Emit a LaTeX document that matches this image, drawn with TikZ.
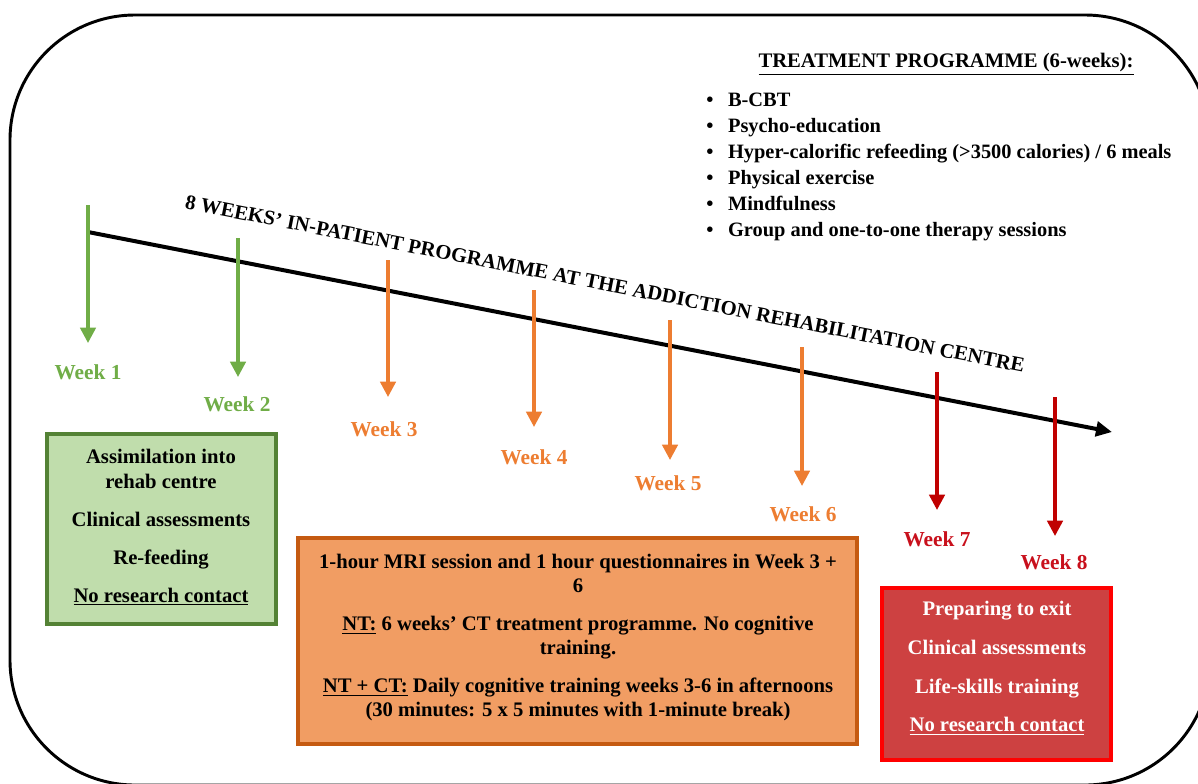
\documentclass[tikz,border=0pt]{standalone}
\usepackage{fontspec}
\setmainfont{Liberation Serif}
\usetikzlibrary{arrows.meta}
\definecolor{wkgreen}{RGB}{112,173,71}
\definecolor{wkorange}{RGB}{237,125,49}
\definecolor{wkred}{RGB}{192,0,0}
\definecolor{wklabelred}{RGB}{200,16,28}
\definecolor{gfill}{RGB}{192,221,172}
\definecolor{gdraw}{RGB}{84,130,53}
\definecolor{ofill}{RGB}{241,157,99}
\definecolor{odraw}{RGB}{197,90,17}
\definecolor{rfill}{RGB}{205,65,65}
\definecolor{rdraw}{RGB}{255,0,0}
\tikzset{
  frame/.style={line width=2.2pt, rounded corners=93.75pt},
  mainarrow/.style={line width=3pt, -{Triangle[length=12pt,width=11pt]}},
  weekarrow/.style={line width=2.6pt, -{Triangle[length=11.5pt,width=11.5pt]}},
  wklabel/.style={inner sep=1pt, font=\bfseries\fontsize{16}{19}\selectfont},
  boxtext/.style={align=center, inner sep=0pt},
}
\begin{document}
\begin{tikzpicture}[x=0.75pt,y=-0.75pt, font=\bfseries\fontsize{15.5}{19}\selectfont]
\useasboundingbox (0,0) rectangle (1198,783);
\clip (0,0) rectangle (1198,783);
\draw[frame] (10,15) rectangle (1210,785);

% treatment programme
\node[inner sep=0pt] (tptitle) at (946,64) {\underline{TREATMENT PROGRAMME (6-weeks):}};
\node[inner sep=0pt, anchor=west, align=left, font=\bfseries\fontsize{15.3}{19.4}\selectfont] (tplist) at (706,167)
 {\textbullet\hspace{11pt}B-CBT\\
  \textbullet\hspace{11pt}Psycho-education\\
  \textbullet\hspace{11pt}Hyper-calorific refeeding (>3500 calories) / 6 meals\\
  \textbullet\hspace{11pt}Physical exercise\\
  \textbullet\hspace{11pt}Mindfulness\\
  \textbullet\hspace{11pt}Group and one-to-one therapy sessions};

% timeline
\coordinate (tlstart) at (88,232);
\coordinate (tlend) at (1112,432);
\draw[mainarrow] (tlstart) -- (tlend);
\node[inner sep=0pt, rotate=-11.07] (tltitle) at (605,284) {8 WEEKS' IN-PATIENT PROGRAMME AT THE ADDICTION REHABILITATION CENTRE};

% week arrows
\coordinate (t1) at (88,205);  \coordinate (e1) at (88,343);
\coordinate (t2) at (238,238); \coordinate (e2) at (238,377);
\coordinate (t3) at (388,260); \coordinate (e3) at (388,397);
\coordinate (t4) at (534,290); \coordinate (e4) at (534,427);
\coordinate (t5) at (670,320); \coordinate (e5) at (670,460);
\coordinate (t6) at (802,347); \coordinate (e6) at (802,486);
\coordinate (t7) at (937,372); \coordinate (e7) at (937,510);
\coordinate (t8) at (1055,397); \coordinate (e8) at (1055,536);
\draw[weekarrow, wkgreen] (t1) -- (e1);
\draw[weekarrow, wkgreen] (t2) -- (e2);
\draw[weekarrow, wkorange] (t3) -- (e3);
\draw[weekarrow, wkorange] (t4) -- (e4);
\draw[weekarrow, wkorange] (t5) -- (e5);
\draw[weekarrow, wkorange] (t6) -- (e6);
\draw[weekarrow, wkred] (t7) -- (e7);
\draw[weekarrow, wkred] (t8) -- (e8);

\node[wklabel, text=wkgreen] (w1) at (88,372) {Week 1};
\node[wklabel, text=wkgreen] (w2) at (237,404) {Week 2};
\node[wklabel, text=wkorange] (w3) at (384,429) {Week 3};
\node[wklabel, text=wkorange] (w4) at (534,457) {Week 4};
\node[wklabel, text=wkorange] (w5) at (668,483) {Week 5};
\node[wklabel, text=wkorange] (w6) at (803,514) {Week 6};
\node[wklabel, text=wklabelred] (w7) at (937,539) {Week 7};
\node[wklabel, text=wklabelred] (w8) at (1054,562) {Week 8};

% boxes
\draw[line width=3.6pt, draw=gdraw, fill=gfill] (47,434) rectangle (276,624);
\node[boxtext] (gtext) at (161,527)
 {Assimilation into\\rehab centre\\[9.5pt]Clinical assessments\\[9.5pt]Re-feeding\\[9.5pt]\underline{No research contact}};

\draw[line width=3pt, draw=odraw, fill=ofill] (298,538) rectangle (857,744);
\node[boxtext, font=\bfseries\fontsize{15.5}{18}\selectfont] (otext) at (578,638)
 {1-hour MRI session and 1 hour questionnaires in Week 3 +\\6\\[10.5pt]
  \underline{NT:} 6 weeks' CT treatment programme. No cognitive\\training.\\[10.5pt]
  \underline{NT + CT:} Daily cognitive training weeks 3-6 in afternoons\\(30 minutes: 5 x 5 minutes with 1-minute break)};

\draw[line width=3.6pt, draw=rdraw, fill=rfill] (882,588) rectangle (1111,760);
\node[boxtext, text=white] (rtext) at (997,668)
 {Preparing to exit\\[10pt]Clinical assessments\\[10pt]Life-skills training\\[10pt]\underline{No research contact}};
\end{tikzpicture}
\end{document}
